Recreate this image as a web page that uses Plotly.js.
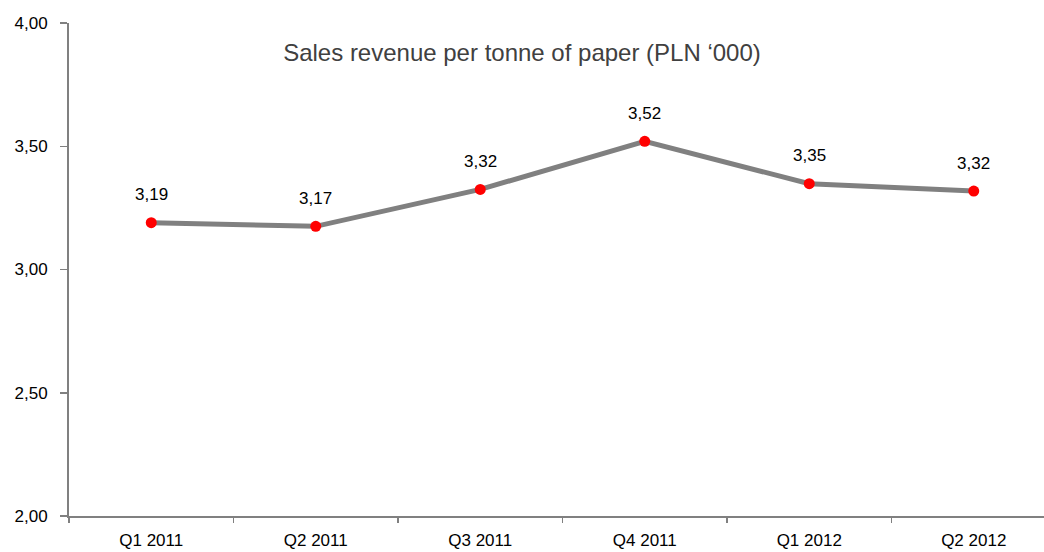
<!DOCTYPE html>
<html>
<head>
<meta charset="utf-8">
<script src="https://cdn.plot.ly/plotly-3.0.1.min.js"></script>
<style>
  html, body { margin: 0; padding: 0; background: #fff; }
  #chart { width: 1044px; height: 552px; }
</style>
</head>
<body>
<div id="chart"></div>
<script>
const quarters = ['Q1 2011', 'Q2 2011', 'Q3 2011', 'Q4 2011', 'Q1 2012', 'Q2 2012'];
const revenue = [3.19, 3.175, 3.325, 3.52, 3.348, 3.318];
const revenueLabels = ['3,19', '3,17', '3,32', '3,52', '3,35', '3,32'];
const yTicks = [2.0, 2.5, 3.0, 3.5, 4.0];

const sans = '"Liberation Sans", Arial, sans-serif';

const line = {
  type: 'scatter',
  mode: 'lines+markers',
  x: quarters,
  y: revenue,
  line: { color: '#808080', width: 5 },
  marker: { color: '#ff0000', size: 11 },
  hoverinfo: 'skip',
  showlegend: false
};

// value labels above each point
const labels = quarters.map((q, i) => ({
  x: q,
  y: revenue[i],
  text: revenueLabels[i],
  showarrow: false,
  yshift: 28,
  font: { family: sans, size: 17, color: '#000' }
}));

const layout = {
  width: 1044,
  height: 552,
  margin: { l: 69, r: 0, t: 23, b: 36 },
  paper_bgcolor: '#fff',
  plot_bgcolor: '#fff',
  separators: ', ',
  title: {
    text: 'Sales revenue per tonne of paper (PLN \u2018000)',
    x: 0.5, xanchor: 'center',
    y: 0.905, yanchor: 'middle',
    font: { family: sans, size: 24, color: '#404040' }
  },
  xaxis: {
    type: 'category',
    range: [-0.5, 5.427],
    showgrid: false,
    zeroline: false,
    showline: true,
    linecolor: '#808080',
    linewidth: 2,
    ticks: 'outside',
    tickson: 'boundaries',
    ticklen: 5,
    tickcolor: '#808080',
    tickwidth: 1.5,
    ticklabelstandoff: 8,
    tickfont: { family: sans, size: 17, color: '#000' },
    fixedrange: true
  },
  yaxis: {
    range: [2, 4],
    tickvals: yTicks,
    tickformat: '.2f',
    showgrid: false,
    zeroline: false,
    showline: true,
    linecolor: '#808080',
    linewidth: 2,
    ticks: 'outside',
    ticklen: 7,
    tickcolor: '#808080',
    tickwidth: 1.5,
    ticklabelstandoff: 9,
    tickfont: { family: sans, size: 17, color: '#000' },
    fixedrange: true
  },
  annotations: labels
};

Plotly.newPlot('chart', [line], layout, { displayModeBar: false, staticPlot: true });
</script>
</body>
</html>
